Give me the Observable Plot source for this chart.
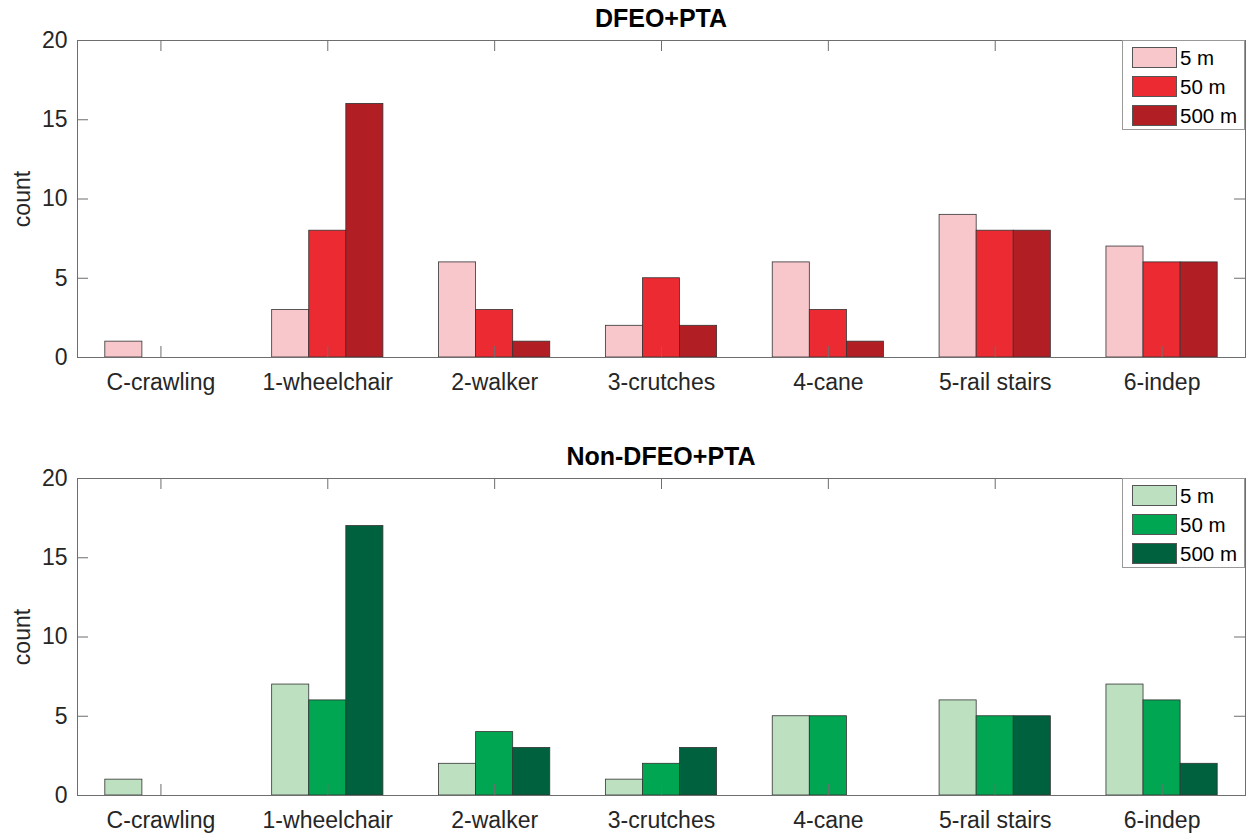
<!DOCTYPE html>
<html>
<head>
<meta charset="utf-8">
<script src="https://cdn.jsdelivr.net/npm/d3@7"></script>
<script src="https://cdn.jsdelivr.net/npm/@observablehq/plot@0.6"></script>
<style>
  html, body { margin: 0; padding: 0; background: #fff; }
  body { font-family: "Liberation Sans", Arial, Helvetica, sans-serif; color: #262626; }
  #wrap { position: relative; width: 1251px; height: 836px; overflow: hidden; }
  .panel { position: absolute; left: 0; width: 1251px; height: 418px; }
  .panel svg { position: absolute; left: 0; top: 0; }
  .title { position: absolute; left: 77px; width: 1168px; top: 4px; text-align: center;
           font-weight: bold; font-size: 25px; color: #000; line-height: 28px; }
  .legend { position: absolute; left: 1122px; top: 40px; width: 123px; height: 90px;
            background: #fff; border: 1px solid #999; box-sizing: border-box; }
  .legend .item { position: absolute; left: 9px; height: 21px; }
  .legend .sw { position: absolute; left: 0; top: 0; width: 45px; height: 21px;
                box-sizing: border-box; border: 1px solid #555; }
  .legend .lab { position: absolute; left: 48px; top: -1px; font-size: 20.5px; line-height: 24px;
                 white-space: nowrap; color: #000; }
</style>
</head>
<body>
<div id="wrap"></div>
<script>
// ---- data ----
const categories = ["C-crawling", "1-wheelchair", "2-walker", "3-crutches", "4-cane", "5-rail stairs", "6-indep"];
const seriesNames = ["5 m", "50 m", "500 m"];
const yTicks = [0, 5, 10, 15, 20];

const titleTop = "DFEO+PTA";
const dfeo5m   = [1, 3, 6, 2, 6, 9, 7];
const dfeo50m  = [0, 8, 3, 5, 3, 8, 6];
const dfeo500m = [0, 16, 1, 2, 1, 8, 6];

const titleBottom = "Non-DFEO+PTA";
const non5m   = [1, 7, 2, 1, 5, 6, 7];
const non50m  = [0, 6, 4, 2, 5, 5, 6];
const non500m = [0, 17, 3, 3, 0, 5, 2];

const redColors   = ["#F8C7CB", "#EC2A31", "#B11E24"];
const greenColors = ["#BDE0C1", "#00A651", "#00613F"];

// ---- drawing ----
const W = 1251, H = 418, mT = 40, mB = 61, mL = 77, mR = 6;
const plotW = W - mL - mR, plotH = H - mT - mB, tickLen = 11;
const bw = 2 / 9; // width of one bar in category units
const axisColor = "#6e6e6e";

function makePanel(top, title, seriesArrays, colors) {
  const rows = [];
  seriesArrays.forEach((arr, j) => arr.forEach((v, i) => rows.push({cat: i + 1, s: j, name: seriesNames[j], value: v})));
  const xTicks = categories.map((_, i) => i + 1);

  const chart = Plot.plot({
    width: W, height: H,
    marginTop: mT, marginBottom: mB, marginLeft: mL, marginRight: mR,
    style: {fontFamily: "'Liberation Sans', Arial, Helvetica, sans-serif", fontSize: "23px", color: "#262626", background: "transparent", overflow: "visible"},
    x: {domain: [0.5, 7.5]},
    y: {domain: [0, 20]},
    color: {domain: seriesNames, range: colors},
    marks: [
      Plot.rect(rows, {
        x1: d => d.cat + (d.s - 1) * bw - bw / 2,
        x2: d => d.cat + (d.s - 1) * bw + bw / 2,
        y1: 0, y2: "value",
        fill: "name", stroke: "#333", strokeWidth: 0.8
      }),
      Plot.frame({stroke: axisColor, strokeWidth: 1}),
      Plot.tickX(xTicks, {x: d => d, stroke: axisColor, insetTop: plotH - tickLen}),
      Plot.tickX(xTicks, {x: d => d, stroke: axisColor, insetBottom: plotH - tickLen}),
      Plot.tickY(yTicks, {y: d => d, stroke: axisColor, insetRight: plotW - tickLen}),
      Plot.tickY(yTicks, {y: d => d, stroke: axisColor, insetLeft: plotW - tickLen}),
      Plot.axisX({ticks: xTicks, tickSize: 0, tickPadding: 16, tickFormat: d => categories[d - 1], label: null}),
      Plot.axisY({ticks: yTicks, tickSize: 0, tickPadding: 10, label: "count", labelAnchor: "center", labelArrow: "none", labelOffset: 64})
    ]
  });

  const panel = document.createElement("div");
  panel.className = "panel";
  panel.style.top = top + "px";
  panel.appendChild(chart);

  const t = document.createElement("div");
  t.className = "title";
  t.textContent = title;
  panel.appendChild(t);

  const lg = document.createElement("div");
  lg.className = "legend";
  seriesNames.forEach((n, j) => {
    const it = document.createElement("div");
    it.className = "item";
    it.style.top = (6 + j * 29) + "px";
    const sw = document.createElement("div");
    sw.className = "sw";
    sw.style.background = colors[j];
    const lab = document.createElement("div");
    lab.className = "lab";
    lab.textContent = n;
    it.appendChild(sw); it.appendChild(lab);
    lg.appendChild(it);
  });
  panel.appendChild(lg);
  document.getElementById("wrap").appendChild(panel);
}

makePanel(0, titleTop, [dfeo5m, dfeo50m, dfeo500m], redColors);
makePanel(438, titleBottom, [non5m, non50m, non500m], greenColors);
</script>
</body>
</html>
